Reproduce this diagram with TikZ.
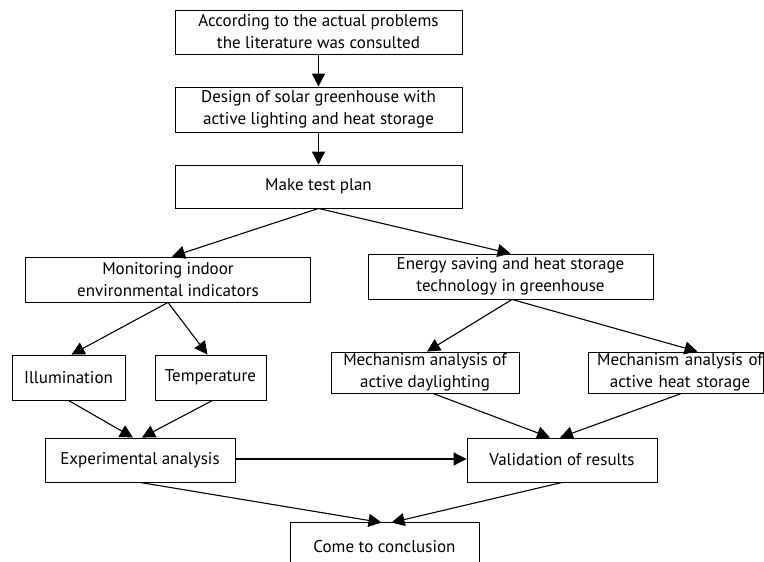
\documentclass[tikz,border=0pt]{standalone}
\usepackage{fontspec}
\setmainfont{PT Sans}
\usetikzlibrary{arrows.meta}
\begin{document}
\begin{tikzpicture}[x=1pt,y=-1pt,
  box/.style={draw,line width=0.9pt,inner sep=0pt,align=center,
    font=\fontsize{17}{22}\selectfont},
  arr/.style={line width=1.1pt,-{Triangle[length=13pt,width=13pt]}}]
\useasboundingbox (0,0) rectangle (764,562);
\clip (0,0) rectangle (764,562);
\fill[white] (0,0) rectangle (764,562);
\node[box,minimum width=287pt,minimum height=44pt] (b1) at (318.5,32) {According to the actual problems\\the literature was consulted};
\node[box,minimum width=287pt,minimum height=45pt] (b2) at (318.5,109.5) {Design of solar greenhouse with\\active lighting and heat storage};
\node[box,minimum width=287pt,minimum height=43pt] (b3) at (318.5,186.5) {Make test plan};
\node[box,minimum width=285pt,minimum height=45pt] (b4) at (168,279.5) {Monitoring indoor\\environmental indicators};
\node[box,minimum width=285pt,minimum height=45pt] (b5) at (510.5,276.5) {Energy saving and heat storage\\technology in greenhouse};
\node[box,minimum width=113pt,minimum height=45pt] (b6) at (68.5,377.5) {Illumination};
\node[box,minimum width=111pt,minimum height=45pt] (b7) at (210.5,377.5) {Temperature};
\node[box,minimum width=188pt,minimum height=41pt] (b8) at (425,372.5) {Mechanism analysis of\\active daylighting};
\node[box,minimum width=175pt,minimum height=41pt,text width=175pt] (b9) at (675.5,372.5) {\hspace*{9pt}Mechanism analysis of\\\hspace*{9pt}active heat storage};
\node[box,minimum width=190pt,minimum height=44pt] (b10) at (140,460) {Experimental analysis};
\node[box,draw=none,minimum width=188pt,minimum height=48pt] (b12) at (384.5,547) {Come to conclusion};
\draw[line width=0.9pt] (b12.south west) -- (b12.north west) -- (b12.north east) -- (b12.south east);
\node[box,minimum width=190pt,minimum height=44pt] (b11) at (562,460) {Validation of results};
\draw[arr] (b1) -- (b2);
\draw[arr] (b2) -- (b3);
\draw[arr] (b3.south) -- ([xshift=4pt]b4.north);
\draw[arr] (b3.south) -- (b5.north);
\draw[arr] (b4.south) -- ([xshift=3pt]b6.north);
\draw[arr] (b4.south) -- ([xshift=-3pt]b7.north);
\draw[arr] (b6.south) -- ([xshift=-7pt]b10.north);
\draw[arr] ([xshift=2pt]b7.south) -- ([xshift=2pt]b10.north);
\draw[arr] ([xshift=1.5pt]b5.south) -- ([xshift=2pt]b8.north);
\draw[arr] ([xshift=1.5pt]b5.south) -- ([xshift=22pt]b9.north);
\draw[arr] ([xshift=8pt]b8.south) -- ([xshift=-12pt]b11.north);
\draw[arr] ([xshift=6pt]b9.south) -- ([xshift=-2pt]b11.north);
\draw[arr] ([yshift=1pt]b10.east) -- ([yshift=1pt]b11.west);
\draw[arr] (b10.south) -- ([xshift=-3pt]b12.north);
\draw[arr] (b11.south) -- ([xshift=7pt]b12.north);
\end{tikzpicture}
\end{document}
